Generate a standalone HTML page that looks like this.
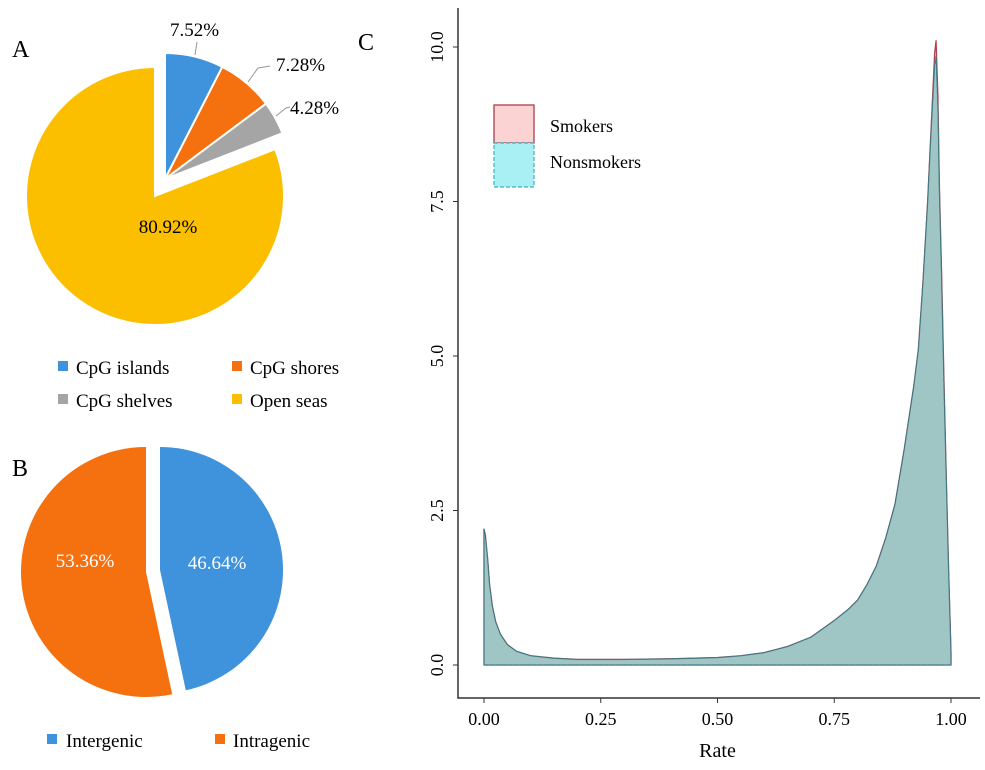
<!DOCTYPE html>
<html><head><meta charset="utf-8"><style>
body{margin:0;background:#fff;}
svg text{font-family:"Liberation Serif",serif;}
</style></head><body>
<svg width="985" height="765" viewBox="0 0 985 765" xmlns="http://www.w3.org/2000/svg">
<g id="pieA"></g>
<text x="12" y="57" font-size="24">A</text>
<g font-size="19">
<rect x="58" y="361" width="10" height="10" fill="#3f92dc"/><text x="76" y="374">CpG islands</text>
<rect x="232" y="361" width="10" height="10" fill="#f5700f"/><text x="250" y="374">CpG shores</text>
<rect x="58" y="394" width="10" height="10" fill="#a5a5a5"/><text x="76" y="407">CpG shelves</text>
<rect x="232" y="394" width="10" height="10" fill="#fbbf00"/><text x="250" y="407">Open seas</text>
</g>
<text x="12" y="476" font-size="24">B</text>
<g id="pieB"></g>
<g font-size="19">
<rect x="47" y="734" width="10" height="10" fill="#3f92dc"/><text x="66" y="747">Intergenic</text>
<rect x="215" y="734" width="10" height="10" fill="#f5700f"/><text x="233" y="747">Intragenic</text>
</g>
<text x="358" y="50" font-size="24">C</text>
<g id="chartC"></g>
</svg>
<script>
const pieALabels=["CpG islands","CpG shores","CpG shelves","Open seas"];
const pieAValues=[7.52,7.28,4.28,80.92];
const pieBLabels=["Intergenic","Intragenic"];
const pieBValues=[46.64,53.36];
const rateX=[0,0.003,0.008,0.012,0.018,0.025,0.035,0.05,0.07,0.1,0.15,0.2,0.3,0.4,0.5,0.55,0.6,0.65,0.7,0.75,0.78,0.8,0.82,0.84,0.86,0.88,0.9,0.91,0.92,0.93,0.94,0.95,0.955,0.96,0.965,0.968,0.972,0.975,0.98,0.985,0.99,0.995,1.0];
const smokers=[2.2,2.1,1.7,1.3,0.95,0.7,0.5,0.33,0.22,0.15,0.11,0.09,0.09,0.1,0.12,0.15,0.2,0.3,0.45,0.72,0.9,1.05,1.3,1.6,2.05,2.6,3.5,4.0,4.5,5.1,6.2,7.5,8.3,9.1,9.9,10.1,9.2,7.8,6.3,4.6,3.0,1.5,0.2];
const nonsmokers=[2.2,2.1,1.7,1.3,0.95,0.7,0.5,0.33,0.22,0.15,0.11,0.09,0.09,0.1,0.12,0.15,0.2,0.3,0.45,0.72,0.9,1.05,1.3,1.6,2.05,2.6,3.5,4.0,4.5,5.1,6.2,7.5,8.3,9.0,9.7,9.85,9.0,7.7,6.2,4.5,3.0,1.5,0.2];
const xTicks=[0,0.25,0.5,0.75,1.0];
const xTickLabels=["0.00","0.25","0.50","0.75","1.00"];
const yTicks=[0,2.5,5,7.5,10];
const yTickLabels=["0.0","2.5","5.0","7.5","10.0"];
const NS="http://www.w3.org/2000/svg";
function mk(tag,attrs,parent){const e=document.createElementNS(NS,tag);for(const k in attrs)e.setAttribute(k,attrs[k]);parent.appendChild(e);return e;}
function pt(cx,cy,r,deg){const a=(deg-90)*Math.PI/180;return [cx+r*Math.cos(a),cy+r*Math.sin(a)];}
function wedge(cx,cy,r,a0,a1){const p0=pt(cx,cy,r,a0),p1=pt(cx,cy,r,a1);return `M${cx},${cy}L${p0[0]},${p0[1]}A${r},${r} 0 ${a1-a0>180?1:0} 1 ${p1[0]},${p1[1]}Z`;}
// Pie A
const gA=document.getElementById('pieA');
const colA=["#3f92dc","#f5700f","#a5a5a5","#fbbf00"];
const totA=pieAValues.reduce((a,b)=>a+b,0);
let ang=0;
const labPos=[[170,36],[276,71],[290,114]];
const lineEnds=[[[195,55],[197,42]],[[248,82],[258,68],[270,66]],[[276,116],[286,108],[290,107]]];
pieAValues.forEach((v,i)=>{
  const a1=ang+v/totA*360;
  const cx=i<3?165:155, cy=i<3?179:196, r=i<3?126:129;
  const p=mk('path',{d:wedge(cx,cy,r,ang,a1),fill:colA[i],stroke:'#fff','stroke-width':2},gA);
  
  
  if(i<3){
    const l=mk('polyline',{points:lineEnds[i].map(q=>q.join(',')).join(' '),fill:'none',stroke:'#999','stroke-width':1},gA);
    
    
    const t=mk('text',{x:labPos[i][0],y:labPos[i][1],'font-size':19},gA);
    t.textContent=v.toFixed(2)+'%';
    
    
  } else {
    const t=mk('text',{x:168,y:233,'font-size':19,'text-anchor':'middle'},gA);
    t.textContent=v.toFixed(2)+'%';
    
    
  }
  ang=a1;
});
// Pie B
const gB=document.getElementById('pieB');
const colB=["#3f92dc","#f5700f"];
const totB=pieBValues.reduce((a,b)=>a+b,0);
ang=0;
pieBValues.forEach((v,i)=>{
  const a1=ang+v/totB*360;
  const cx=i==0?160:146, cy=i==0?570:572, r=i==0?123:125;
  const p=mk('path',{d:wedge(cx,cy,r,ang,a1),fill:colB[i]},gB);
  
  
  const t=mk('text',{x:i==0?217:85,y:i==0?569:567,'font-size':19,fill:'#fff','text-anchor':'middle'},gB);
  t.textContent=v.toFixed(2)+'%';
  
  
  ang=a1;
});
// Chart C
const gC=document.getElementById('chartC');
const X=v=>484+v*(951-484);
const Y=v=>665-v*(665-47)/10;
const ax=mk('path',{d:'M458,8 L458,698 L980,698',fill:'none',stroke:'#333','stroke-width':1.5},gC);


xTicks.forEach((v,i)=>{
  const tk=mk('line',{x1:X(v),x2:X(v),y1:698,y2:703,stroke:'#333'},gC);
  
  
  const t=mk('text',{x:X(v),y:725,'font-size':18,'text-anchor':'middle'},gC);
  t.textContent=xTickLabels[i];
  
  
});
yTicks.forEach((v,i)=>{
  const tk=mk('line',{x1:453,x2:458,y1:Y(v),y2:Y(v),stroke:'#333'},gC);
  
  
  const t=mk('text',{x:0,y:0,'font-size':18,'text-anchor':'middle',transform:`translate(443,${Y(v)}) rotate(-90)`},gC);
  t.textContent=yTickLabels[i];
  
  
});
const xt=mk('text',{x:X(0.5),y:757,'font-size':20,'text-anchor':'middle'},gC);
xt.textContent='Rate';


function area(vals){let d=`M${X(rateX[0])},${Y(0)}`;rateX.forEach((x,i)=>{d+=`L${X(x)},${Y(vals[i])}`;});return d+`L${X(rateX[rateX.length-1])},${Y(0)}Z`;}
const s=mk('path',{d:area(smokers),fill:'rgba(240,150,150,0.45)',stroke:'#b04050','stroke-width':1.3,'stroke-linejoin':'round'},gC);


const n=mk('path',{d:area(nonsmokers),fill:'rgba(100,190,190,0.6)',stroke:'#40a0a8','stroke-width':1.2,'stroke-dasharray':'4,2','stroke-linejoin':'round'},gC);


const c=mk('path',{d:area(nonsmokers),fill:'none',stroke:'#3a6470','stroke-width':0.8,'stroke-opacity':0.7},gC);


const l1=mk('rect',{x:494,y:105,width:40,height:38,fill:'#fbd3d3',stroke:'#a84050','stroke-width':1.3},gC);


const l2=mk('rect',{x:494,y:143,width:40,height:44,fill:'#a8f0f4',stroke:'#40b0b8','stroke-width':1.2,'stroke-dasharray':'4,2'},gC);


const t1=mk('text',{x:550,y:132,'font-size':18},gC);t1.textContent='Smokers';


const t2=mk('text',{x:550,y:168,'font-size':18},gC);t2.textContent='Nonsmokers';


</script>
</body></html>
